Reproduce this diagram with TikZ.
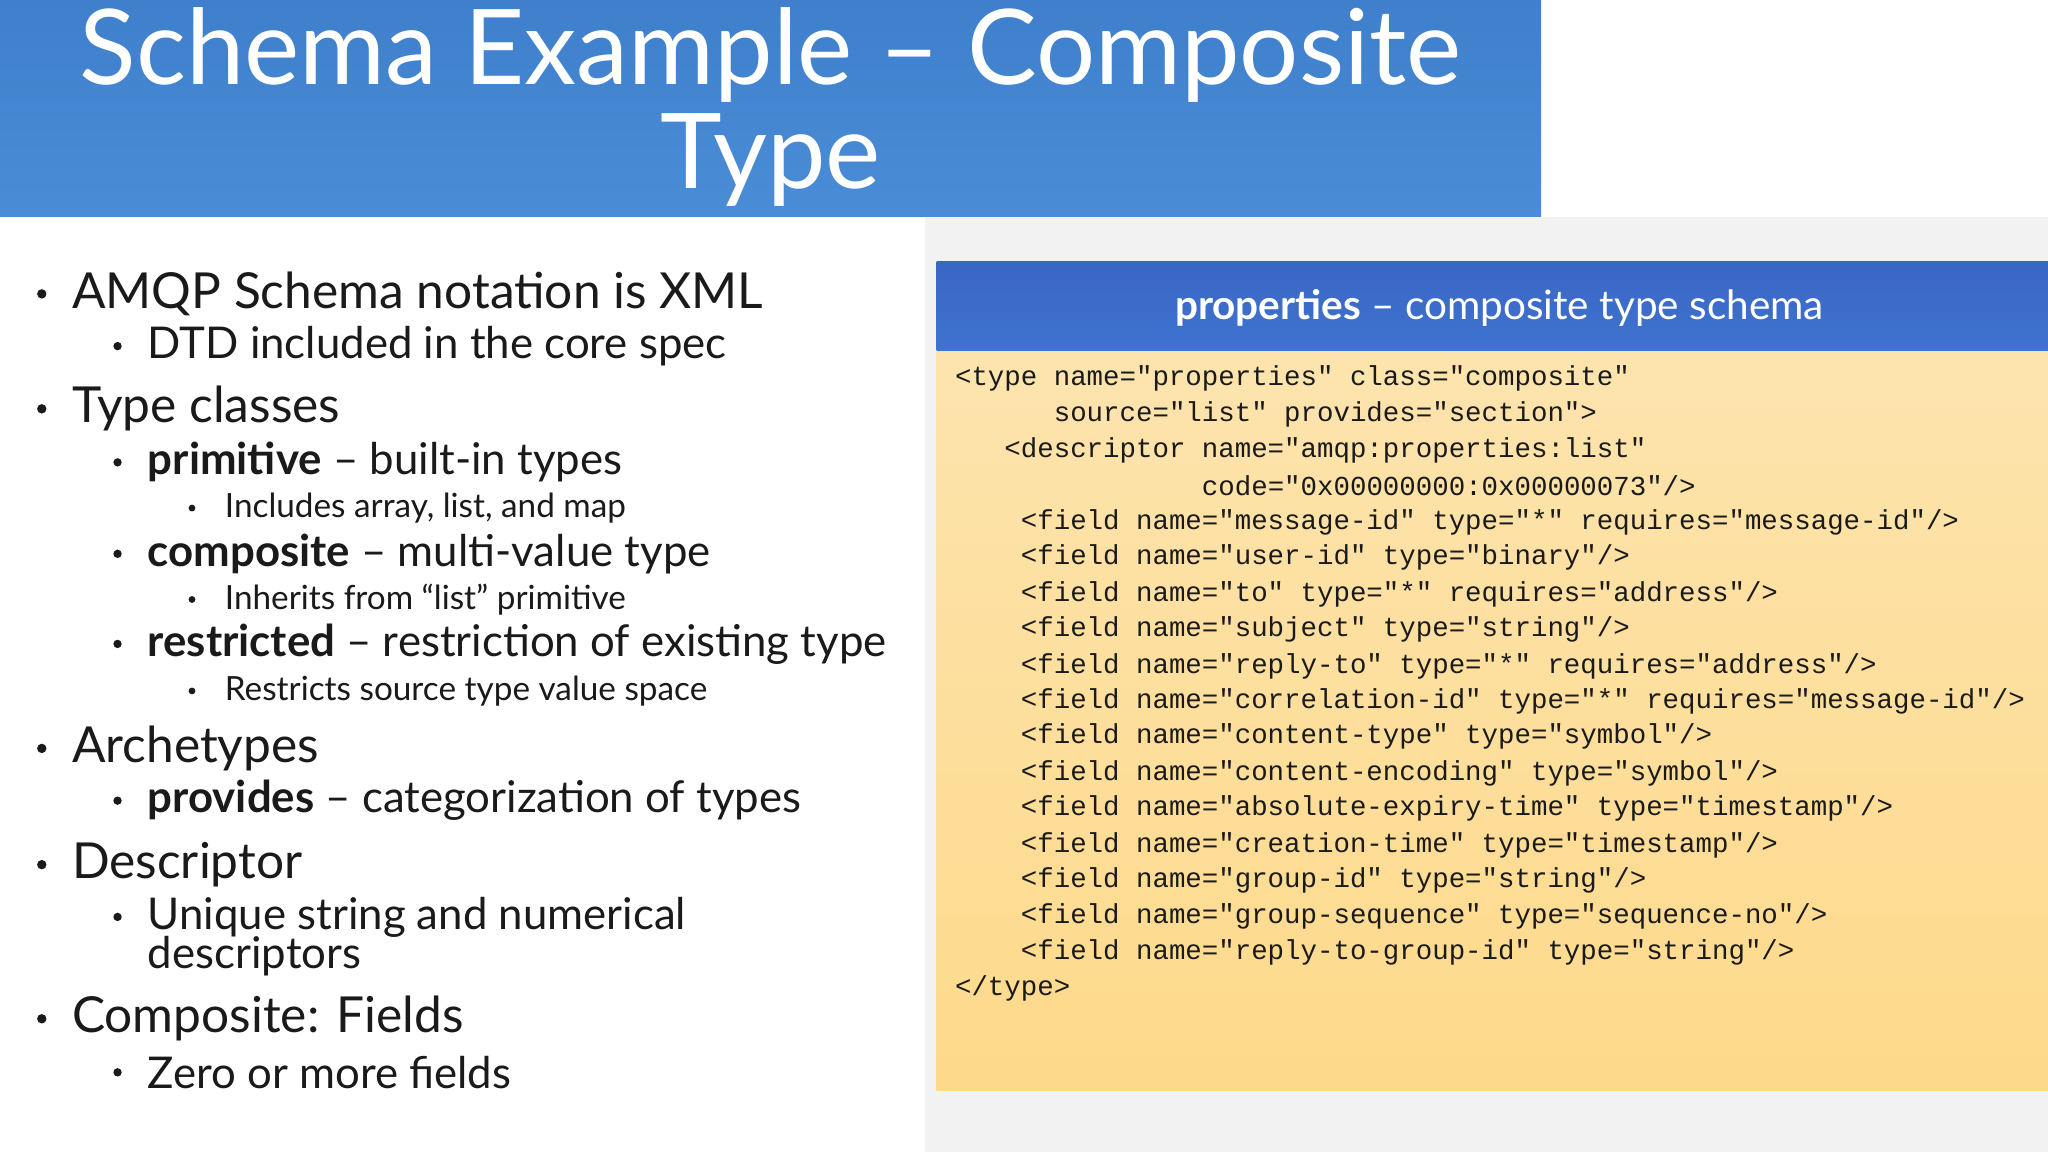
\documentclass[tikz,border=0pt]{standalone}
\usepackage{fontspec}
\setmainfont{Lato}
\setmonofont{Liberation Mono}
\definecolor{tblue}{HTML}{4A8DD6}
\definecolor{tblue2}{HTML}{3F7FCC}
\definecolor{hblue1}{HTML}{3A66C4}
\definecolor{hblue2}{HTML}{3F73D0}
\definecolor{ylw1}{HTML}{FDE4AE}
\definecolor{ylw2}{HTML}{FDD98A}
\definecolor{txt}{HTML}{1A1A1A}
\begin{document}
\begin{tikzpicture}[x=1pt,y=-1pt,
  bul/.style={anchor=center,inner sep=0,text=txt},
  l1/.style={anchor=west,font=\fontsize{38}{40}\selectfont,inner sep=0,text=txt},
  l2/.style={anchor=west,font=\fontsize{33.5}{31}\selectfont,inner sep=0,text=txt},
  l3/.style={anchor=west,font=\fontsize{25.5}{28}\selectfont,inner sep=0,text=txt},
  code/.style={anchor=west,font=\fontsize{21}{24}\ttfamily,inner sep=0,text=txt}]
\useasboundingbox (0,0) rectangle (1568,882);
\fill[white] (0,0) rectangle (1568,882);
\fill[gray!10] (708,166) rectangle (1568,882);
\shade[top color=tblue2, bottom color=tblue] (0,0) rectangle (1180,166);
\node[text=white,font=\fontsize{80}{80}\selectfont,align=center] (title) at (590,82) {Schema Example – Composite\\Type};
\shade[top color=ylw1, bottom color=ylw2] (717,268) rectangle (1568,835);
\shade[top color=hblue1, bottom color=hblue2] (717,200) rectangle (1568,268);
\node[text=white,font=\fontsize{31}{32}\selectfont] (hdr) at (1148,236) {\textbf{properties} – composite type schema};
\foreach \y/\t in {
290/{<type name="properties" class="composite"},
317/{\hspace*{6\fontcharwd\font`x}source="list" provides="section">},
345/{\hspace*{3\fontcharwd\font`x}<descriptor name="amqp:properties:list"},
372/{\hspace*{15\fontcharwd\font`x}code="0x00000000:0x00000073"/>},
400/{\hspace*{4\fontcharwd\font`x}<field name="message-id" type="*" requires="message-id"/>},
427/{\hspace*{4\fontcharwd\font`x}<field name="user-id" type="binary"/>},
455/{\hspace*{4\fontcharwd\font`x}<field name="to" type="*" requires="address"/>},
482/{\hspace*{4\fontcharwd\font`x}<field name="subject" type="string"/>},
510/{\hspace*{4\fontcharwd\font`x}<field name="reply-to" type="*" requires="address"/>},
537/{\hspace*{4\fontcharwd\font`x}<field name="correlation-id" type="*" requires="message-id"/>},
564/{\hspace*{4\fontcharwd\font`x}<field name="content-type" type="symbol"/>},
592/{\hspace*{4\fontcharwd\font`x}<field name="content-encoding" type="symbol"/>},
619/{\hspace*{4\fontcharwd\font`x}<field name="absolute-expiry-time" type="timestamp"/>},
647/{\hspace*{4\fontcharwd\font`x}<field name="creation-time" type="timestamp"/>},
674/{\hspace*{4\fontcharwd\font`x}<field name="group-id" type="string"/>},
702/{\hspace*{4\fontcharwd\font`x}<field name="group-sequence" type="sequence-no"/>},
729/{\hspace*{4\fontcharwd\font`x}<field name="reply-to-group-id" type="string"/>},
757/{</type>}}
  \node[code] at (731,\y) {\t};
% bullets
\foreach \y/\t in {225/AMQP Schema notation is XML,313/Type classes,573/Archetypes,662/Descriptor,780/Composite: Fields}
  {\fill[txt] (32,\y) circle (3.6); \node[l1] at (55,\y) {\t};}
\foreach \y/\t in {265/DTD included in the core spec,354/{\textbf{primitive} – built-in types},424/{\textbf{composite} – multi-value type},493/{\textbf{restricted} – restriction of existing type},613/{\textbf{provides} – categorization of types},702/Unique string and numerical,821/Zero or more fields}
  {\fill[txt] (90,\y) circle (3.2); \node[l2] at (113,\y) {\t};}
\node[l2] at (113,732) {descriptors};
\foreach \y/\t in {389/{Includes array, list, and map},459/{Inherits from “list” primitive},529/Restricts source type value space}
  {\fill[txt] (147,\y) circle (2.6); \node[l3] at (172,\y) {\t};}
\end{tikzpicture}
\end{document}
